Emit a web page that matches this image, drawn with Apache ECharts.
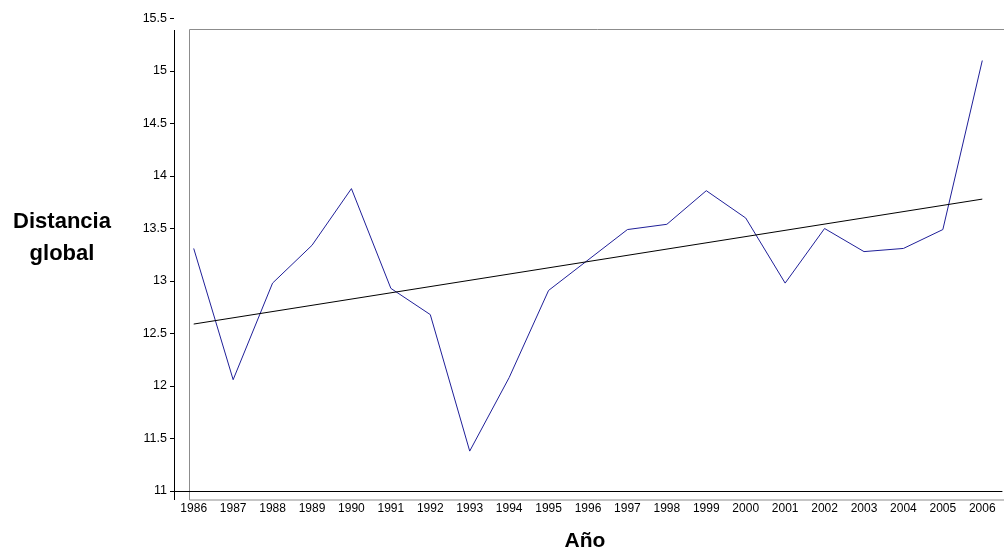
<!DOCTYPE html>
<html>
<head>
<meta charset="utf-8">
<script src="https://cdn.jsdelivr.net/npm/echarts@6/dist/echarts.min.js"></script>
<style>
  html, body { margin: 0; padding: 0; background: #fff; }
  #chart { width: 1004px; height: 550px; }
</style>
</head>
<body>
<div id="chart"></div>
<script>
// datos
const years = ['1986', '1987', '1988', '1989', '1990', '1991', '1992', '1993', '1994', '1995', '1996',
  '1997', '1998', '1999', '2000', '2001', '2002', '2003', '2004', '2005', '2006'];
const distancia = [13.31, 12.06, 12.98, 13.34, 13.88, 12.93, 12.68, 11.38, 12.08, 12.91, 13.2,
  13.49, 13.54, 13.86, 13.6, 12.98, 13.5, 13.28, 13.31, 13.49, 15.1];
// línea de tendencia: extremos leídos
const tendencia = [['1986', 12.59], ['2006', 13.78]];

const chart = echarts.init(document.getElementById('chart'));
const font = 'Liberation Sans, Arial, sans-serif';

chart.setOption({
  animation: false,
  textStyle: { fontFamily: font },
  grid: { left: 174, right: 2, top: 18.5, bottom: 59, outerBoundsMode: 'none', containLabel: false },
  graphic: [
    // marco gris del área de trazado
    { type: 'rect', shape: { x: 189.5, y: 29.5, width: 830, height: 470.5 },
      style: { fill: 'none', stroke: '#8c8c8c', lineWidth: 1 }, z: -1 },
    { type: 'line', shape: { x1: 174.5, y1: 30, x2: 174.5, y2: 500 },
      style: { stroke: '#000', lineWidth: 1 } },
    { type: 'text', x: 62, y: 222,
      style: { text: 'Distancia', font: 'bold 22px ' + font, fill: '#000',
        align: 'center', verticalAlign: 'middle' } },
    { type: 'text', x: 62, y: 254,
      style: { text: 'global', font: 'bold 22px ' + font, fill: '#000',
        align: 'center', verticalAlign: 'middle' } },
    { type: 'text', x: 585, y: 541,
      style: { text: 'Año', font: 'bold 21px ' + font, fill: '#000',
        align: 'center', verticalAlign: 'middle' } }
  ],
  xAxis: {
    type: 'category',
    data: years,
    boundaryGap: true,
    axisLine: { lineStyle: { color: '#000', width: 1 } },
    axisTick: { inside: true, length: 3, lineStyle: { color: '#000' } },
    axisLabel: { color: '#000', fontSize: 12, margin: 12 },
    splitLine: { show: false }
  },
  yAxis: {
    type: 'value',
    min: 11,
    max: 15.5,
    interval: 0.5,
    axisLine: { show: false },
    axisTick: { show: true, length: 4, lineStyle: { color: '#000' } },
    axisLabel: { color: '#000', fontSize: 12.5, margin: 7 },
    splitLine: { show: false }
  },
  series: [
    {
      type: 'line',
      data: distancia,
      symbol: 'none',
      lineStyle: { color: '#1f1f98', width: 1 },
      z: 3
    },
    {
      type: 'line',
      data: tendencia,
      symbol: 'none',
      lineStyle: { color: '#000', width: 1 },
      z: 4
    }
  ]
});
</script>
</body>
</html>
